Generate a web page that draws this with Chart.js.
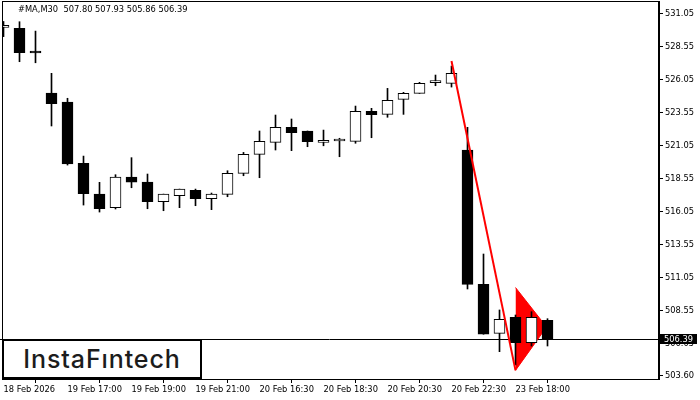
<!DOCTYPE html>
<html lang="en">
  <head>
    <meta charset="UTF-8" />
    <title>#MA,M30</title>
    <style>
      body {
        margin: 0;
        background: #fff;
      }
      #wrap {
        position: relative;
        width: 700px;
        height: 400px;
      }
      #caption {
        position: absolute;
        left: 18px;
        top: 4px;
        font-family: "DejaVu Sans", sans-serif;
        font-size: 8.3px;
        color: #000;
        white-space: pre;
      }
      #logo {
        position: absolute;
        left: 2px;
        top: 339px;
        width: 196px;
        height: 36px;
        border: 2px solid #000;
        background: #fff;
        font-family: Inter, sans-serif;
        font-weight: 500;
        font-size: 25px;
        line-height: 36px;
        color: #1c1c1c;
        text-align: center;
        letter-spacing: 0.9px;
      }
    </style>
  </head>
  <body>
    <div id="wrap">
      <canvas id="chart" width="700" height="400"></canvas>
      <div id="caption">#MA,M30  507.80 507.93 505.86 506.39</div>
      <div id="logo">InstaFıntech</div>
    </div>

    <script src="https://cdn.jsdelivr.net/npm/chart.js"></script>
    <script>
      // M30 candles
      const opens = [530.0, 529.93, 528.1, 525.03, 524.35, 519.7, 517.37, 516.34, 518.66, 518.28,
        516.79, 517.25, 517.66, 517.02, 517.35, 518.94, 520.38, 521.29, 522.43, 522.15,
        521.29, 521.39, 521.37, 523.64, 523.41, 524.55, 525.0, 525.81, 525.76, 520.71,
        510.53, 506.82, 508.03, 506.11, 507.8];
      const highs = [530.45, 530.43, 529.72, 526.52, 524.63, 520.25, 518.26, 518.84, 520.13, 518.89,
        517.37, 517.75, 517.75, 517.45, 519.14, 520.53, 522.15, 523.36, 523.06, 522.15,
        522.22, 521.6, 524.04, 523.87, 525.38, 525.08, 525.84, 526.39, 527.07, 522.43,
        512.83, 508.59, 508.21, 508.46, 507.93];
      const lows = [529.3, 527.4, 527.32, 522.53, 519.57, 516.54, 516.01, 516.24, 517.85, 516.26,
        516.11, 516.34, 516.49, 516.19, 517.17, 518.76, 518.61, 520.71, 520.66, 520.96,
        521.03, 520.2, 521.22, 521.64, 523.19, 523.41, 525.0, 525.58, 525.48, 510.18,
        506.75, 505.43, 504.42, 505.86, 505.86];
      const closes = [530.0, 528.08, 528.06, 524.22, 519.65, 517.4, 516.26, 518.66, 518.28, 516.79,
        517.37, 517.75, 517.02, 517.37, 518.94, 520.38, 521.37, 522.43, 522.02, 521.34,
        521.29, 521.39, 523.64, 523.38, 524.47, 525.0, 525.76, 525.81, 526.52, 510.53,
        506.75, 507.88, 506.11, 508.03, 506.39];

      const xTickIdx = [0, 4, 8, 12, 16, 20, 24, 28, 32];
      const xTickLabels = ["18 Feb 2026", "19 Feb 17:00", "19 Feb 19:00", "19 Feb 21:00",
        "20 Feb 16:30", "20 Feb 18:30", "20 Feb 20:30", "20 Feb 22:30", "23 Feb 18:00"];
      const yTicks = [531.05, 528.55, 526.05, 523.55, 521.05, 518.55, 516.05, 513.55,
        511.05, 508.55, 506.05, 503.6];

      const lastPrice = 506.39;
      // pennant: pole and flag
      const poleX = [28, 32];
      const poleY = [527.45, 504.01];
      const flagX = [32, 33.94];
      const flagUpper = [510.29, 507.3];
      const flagLower = [504.01, 507.3];

      const xMin = -0.09375;
      const xMax = 40.96875;

      Chart.defaults.font.family = "'DejaVu Sans', sans-serif";
      Chart.defaults.font.size = 8.3;
      Chart.defaults.color = "#000";

      const frame = {
        id: "frame",
        beforeDatasetsDraw(chart) {
          // bid line, snapped to a whole pixel
          const { ctx, chartArea: a } = chart;
          const y = Math.round(chart.scales.y.getPixelForValue(lastPrice)) + 0.5;
          ctx.save();
          ctx.strokeStyle = "#000";
          ctx.lineWidth = 1;
          ctx.beginPath();
          ctx.moveTo(0, y);
          ctx.lineTo(a.right, y);
          ctx.stroke();
          ctx.restore();
        },
        afterDatasetsDraw(chart) {
          const { ctx, chartArea: a } = chart;
          ctx.save();
          ctx.strokeStyle = "#000";
          ctx.lineWidth = 1;
          ctx.strokeRect(a.left + 0.5, a.top + 0.5, a.right - a.left - 1, a.bottom - a.top);
          ctx.restore();
        },
        afterDraw(chart) {
          // current price tag on the right axis
          const { ctx, chartArea: a } = chart;
          const y = Math.round(chart.scales.y.getPixelForValue(lastPrice));
          ctx.save();
          ctx.fillStyle = "#000";
          ctx.fillRect(a.right + 1, y - 5, 37, 10);
          ctx.fillStyle = "#fff";
          ctx.textBaseline = "middle";
          ctx.fillText(lastPrice.toFixed(2), a.right + 5, y + 0.5);
          ctx.restore();
        },
      };

      const line = (pts, color, width, order, extra) =>
        Object.assign({
          type: "line",
          data: pts,
          borderColor: color,
          borderWidth: width,
          pointRadius: 0,
          fill: false,
          order: order,
          clip: 0,
        }, extra || {});

      const noPad = (s) => {
        s.paddingTop = 0;
        s.paddingBottom = 0;
        s.paddingLeft = 0;
        s.paddingRight = 0;
      };

      const ctx = document.getElementById("chart").getContext("2d");
      new Chart(ctx, {
        type: "bar",
        data: {
          datasets: [
            line(flagX.map((x, i) => ({ x: x, y: flagUpper[i] })), "#ff0000", 1, 6),
            line(flagX.map((x, i) => ({ x: x, y: flagLower[i] })), "#ff0000", 1, 5,
              { fill: "-1", backgroundColor: "#ff0000" }),
            {
              label: "wick",
              data: lows.map((l, i) => ({ x: i, y: [l, highs[i]] })),
              backgroundColor: "#000",
              borderWidth: 0,
              barThickness: 1,
              grouped: false,
              order: 3,
              clip: 0,
            },
            {
              label: "body",
              data: opens.map((o, i) => ({ x: i, y: [o, closes[i]] })),
              backgroundColor: opens.map((o, i) => (closes[i] < o ? "#000" : "#fff")),
              borderColor: "#000",
              borderWidth: 1,
              borderSkipped: false,
              barThickness: 11,
              minBarLength: 2,
              grouped: false,
              order: 2,
              clip: 0,
            },
            line(poleX.map((x, i) => ({ x: x, y: poleY[i] })), "#ff0000", 2, 0),
          ],
        },
        options: {
          responsive: false,
          animation: false,
          devicePixelRatio: 1,
          layout: { padding: { left: 2, top: 1, right: 0, bottom: 0 } },
          plugins: { legend: { display: false }, tooltip: { enabled: false } },
          scales: {
            x: {
              type: "linear",
              min: xMin,
              max: xMax,
              offset: false,
              grid: { drawOnChartArea: false, tickLength: 4, color: "#000" },
              border: { color: "#000" },
              ticks: {
                align: "start",
                maxRotation: 0,
                autoSkip: false,
                padding: 2,
                callback: (v) => xTickLabels[xTickIdx.indexOf(v)] || "",
              },
              afterBuildTicks: (s) => {
                s.ticks = xTickIdx.map((v) => ({ value: v }));
              },
              afterFit: (s) => {
                s.height = 21;
                noPad(s);
              },
            },
            y: {
              position: "right",
              min: 503.36,
              max: 532.0,
              grid: { drawOnChartArea: false, tickLength: 4, color: "#000" },
              border: { color: "#000" },
              ticks: {
                padding: 2,
                callback: (v) => Number(v).toFixed(2),
              },
              afterBuildTicks: (s) => {
                s.ticks = yTicks.map((v) => ({ value: v }));
              },
              afterFit: (s) => {
                s.width = 41;
                noPad(s);
              },
            },
          },
        },
        plugins: [frame],
      });
    </script>
  </body>
</html>
